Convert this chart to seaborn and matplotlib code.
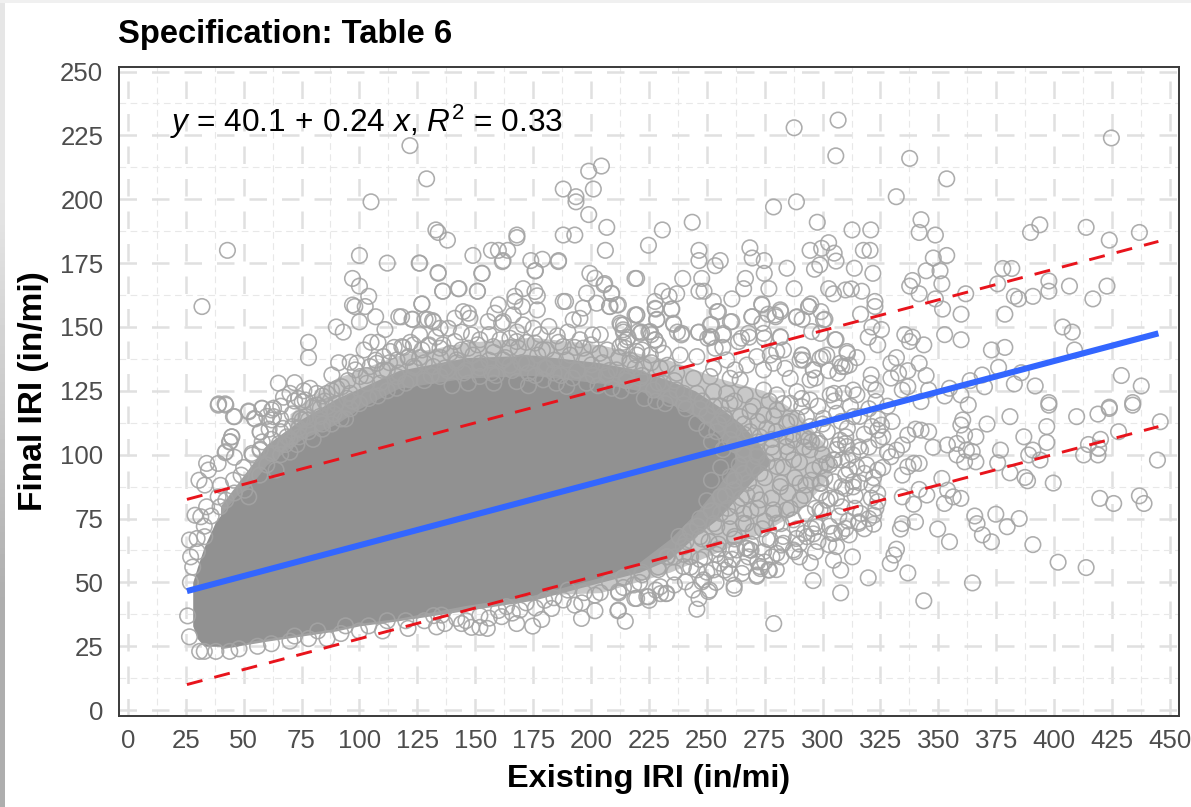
import matplotlib
matplotlib.use("Agg")
import matplotlib.pyplot as plt
from matplotlib.ticker import MultipleLocator
import seaborn as sns
import pandas as pd

# solid grey mass, read as an envelope (x, lower, upper)
core_x = [28, 30, 33, 38, 47, 53, 60, 75, 90, 100, 117, 146, 175, 204, 221, 234, 245, 255, 262]
core_low = [33, 28, 25, 25, 25, 27, 28, 30, 32, 34, 36, 41, 45, 52, 58, 67, 77, 88, 97]
core_high = [50, 56, 64, 74, 84, 88, 96, 106, 112, 118, 126, 130, 131, 128, 125, 120, 115, 108, 100]

# where the circles overlap so much that the paper hardly shows through
dense_x = [40, 60, 75, 90, 100, 117, 146, 175, 204, 221, 234, 245, 255, 265, 272, 277]
dense_low = [24, 27, 29, 31, 33, 35, 39, 43, 50, 54, 59, 68, 75, 85, 92, 96]
dense_high = [80, 104, 114, 122, 126, 133, 138, 139, 136, 133, 129, 125, 119, 112, 105, 98]

# outer zone where single rings start to separate
haze_x = [70, 90, 117, 146, 175, 204, 234, 255, 275, 290, 300, 305]
haze_low = [30, 33, 37, 41, 45, 46, 54, 62, 70, 78, 88, 96]
haze_high = [116, 130, 139, 144, 146, 143, 137, 130, 125, 116, 105, 98]

# circles, read region by region
pts_top = [
    (121.8, 221), (287.7, 228), (306.7, 231), (305.7, 217), (337.6, 216), (353.6, 208), (424.7, 224),
    (331.8, 201), (129, 208), (105, 199), (199, 211), (204.5, 213), (188, 204), (193.5, 201),
    (193.5, 199), (199, 194), (201, 204), (278.8, 197), (288.7, 199), (243.7, 191), (230.8, 188),
    (224.8, 182), (206.8, 189), (206.2, 180), (297.7, 191), (342.5, 192), (341.7, 187), (348.7, 186),
    (312.7, 188), (320.8, 188), (389.8, 187), (393.8, 190), (413.8, 189), (423.8, 184), (436.8, 187),
    (43, 180), (32, 158), (133, 188), (134, 187), (138, 184), (100, 178), (112, 175), (126, 175),
    (134, 171), (149, 178), (153, 171), (136, 164), (143, 165), (151, 164), (157, 180), (160, 180),
    (164, 180), (162, 176), (168, 185), (168, 186), (174, 176), (176, 172), (179, 176.5), (186, 176),
    (188, 186), (193, 186), (185.9, 175.6), (161.7, 175.6), (125.8, 175), (152.8, 171), (175.8, 172),
]
pts_upper_left = [
    (97, 169), (100, 166), (104, 162), (97, 158.6), (98, 158), (102.5, 158), (100, 152), (107, 154),
    (90, 150), (93, 148), (111, 149), (117, 154), (122.7, 153), (129.6, 153), (132, 152), (127, 159),
    (78, 144), (78, 138), (102, 141), (105, 144), (108, 144), (91, 136), (88.1, 131.2), (96, 136.2),
    (98.9, 135.8), (98.2, 133.2), (113.3, 140.4), (118.3, 142.3), (65, 128), (72, 128.2), (67.2, 122.5),
    (39.2, 119.9), (42, 119.9), (46.1, 114.9), (52.1, 117.1), (57.9, 118.2), (55, 114), (62.9, 118.2),
    (62.2, 113.6), (57.2, 108.8), (44.9, 107), (44.2, 105.1), (42, 100.8), (53.6, 100.5), (57.2, 102.2),
    (74.4, 114.2), (78, 113.6), (73.7, 122), (76.6, 121.4), (78.7, 126), (81.6, 124), (90.3, 126),
    (92.4, 126.6), (94.6, 122.1), (86, 118.8), (83.1, 118.2), (103.2, 128), (104.6, 134.5), (107.5, 135.8),
    (110.4, 138.4), (116.2, 137.1), (100.3, 130.6), (109, 128), (116.2, 130.6), (121.2, 138.4),
    (88, 112), (84, 110), (92, 114), (96, 118), (100, 120), (104, 122), (108, 123), (112, 125),
    (116, 126), (120, 128), (70, 106), (73, 104), (66, 100), (80, 106), (86, 124), (112, 133), (95, 129),
]
pts_upper_mid = [
    (134, 171.3), (135.9, 164), (142.7, 165), (150.9, 164), (170.7, 165), (167.1, 162), (167.1, 160),
    (175.8, 163.9), (176.8, 162.2), (176.8, 156.7), (170.3, 158), (166.4, 154.7), (160, 158.7),
    (158.5, 155.4), (162.1, 152.1), (161.4, 151.5), (155.6, 152.1), (126.9, 159), (144.8, 156),
    (147.7, 153.4), (147, 155.4), (141.2, 153.4), (138.4, 149.5), (134.8, 149.5), (131.6, 152.5),
    (128.3, 153), (123, 153), (118.2, 154), (188, 160), (189, 160), (199.5, 171), (201.7, 169.1),
    (205.6, 166.5), (208.9, 163.2), (219, 169), (198.1, 163.2), (202.4, 159.3), (208.2, 158),
    (211.8, 158.7), (196.6, 157.4), (192.3, 152.8), (195.2, 153.4), (181.8, 150.2), (185.4, 146.5),
    (200.7, 146.9), (212.5, 151.5), (213.9, 148.9), (219, 154.7), (220.4, 148.2), (170.7, 150.8),
    (175.1, 149.5), (165, 145.6), (167.9, 144.3), (168.6, 141.7), (175.8, 143.7), (160.7, 145),
    (152, 145), (148.4, 146.9), (141.2, 144.3), (129.7, 142.6), (130, 143), (123.3, 143), (119, 142),
    (134.8, 141.7), (139.1, 139.7), (147, 141.7), (157.8, 142.3), (180.8, 141), (188, 142.3),
    (195.2, 145), (196.6, 141.7), (203.8, 139.7), (212.5, 142.3), (216.8, 137.1), (219.7, 140.4),
    (189.5, 137.1), (200.2, 135.2), (180.8, 133.9), (172.2, 135.8), (162.1, 137.1), (152, 135.8),
    (142, 137.1), (131.9, 134.5), (123.3, 134.5), (211, 133.2), (189.5, 126.7), (206.7, 131.2),
    (167.9, 128.6), (152, 130.6), (134.8, 130.6), (121.8, 129.3), (179.4, 129.3), (198.1, 128),
    (215.4, 130.6), (126, 138), (137, 134), (146, 133), (157, 132), (165, 135), (176, 131), (184, 132),
    (192, 130), (203, 127), (128, 129), (140, 127), (147, 128), (158, 128), (173, 127), (185, 128),
    (194, 133), (209, 126), (213, 125), (218, 127), (223, 122), (228, 121), (232, 120),
]
pts_upper_right = [
    (246.6, 180), (246.6, 176), (253.6, 174), (255.8, 176), (268.6, 181), (269.6, 177), (274.8, 176),
    (274.8, 171), (284.6, 173), (294.6, 180), (299.6, 180.8), (302.6, 183), (305, 178.9), (305.8, 175.8),
    (296.5, 172.6), (298.8, 174.3), (317.6, 180), (320.5, 180), (313.7, 173), (321.7, 171), (347.8, 177),
    (353.6, 178), (344.7, 172), (350.7, 172), (351.5, 166.9), (338.8, 168.2), (337.6, 166), (341.7, 163),
    (219.7, 169), (239.6, 169), (247.8, 169), (246.6, 164), (248.8, 164), (265.9, 165), (266.7, 169),
    (276.8, 165), (287.7, 165), (302.6, 165), (304.7, 163), (309.9, 164.5), (312.4, 164.9), (316.9, 164),
    (252.8, 160), (260.8, 161), (230.8, 164), (233.7, 162), (237, 163), (227.6, 160), (227.9, 157),
    (234.7, 157), (254.5, 156), (273.7, 159), (281.9, 156), (276.5, 155), (279.7, 154), (269.6, 154),
    (288.7, 153.8), (291.2, 153), (294.1, 158), (294.9, 159), (299.3, 156), (301, 153), (316.4, 155),
    (322.6, 160), (322.6, 158), (377.8, 172.9), (381.7, 172.9), (375.6, 166.9), (397.7, 168), (397.7, 164),
    (406.6, 166), (422.8, 166), (416.7, 161), (390.8, 162), (382.8, 162), (384.6, 161), (348.7, 161),
    (361.8, 163), (351.8, 157), (359.8, 155), (378.7, 155), (403.7, 150), (407.8, 148), (378.7, 142),
    (372.9, 141), (408.8, 141), (352.7, 147), (359.8, 145), (343.7, 143), (335.5, 147), (338.8, 146),
    (337.6, 144.3), (323.8, 143), (319.7, 146), (325.4, 149), (321.3, 150), (305.8, 145), (310.7, 139.7),
    (314.8, 138), (341.7, 135.8), (344.7, 131), (336.8, 132.9), (331.9, 138), (329.5, 135.8), (329.5, 130),
    (332.8, 131.9), (368.9, 131.2), (363.7, 129), (376, 134.2), (385.8, 132.1), (382.8, 127.7), (369.9, 126.6),
    (391.8, 126.9), (429, 131), (437.6, 126.9), (354.8, 126), (352.7, 123), (359.7, 123.4), (362.9, 119.5),
    (345.8, 125.3), (397.7, 120.4), (423.8, 118.6), (433.9, 120.4), (323, 120.8), (321, 131.2), (320.7, 127.9),
    (323, 125.3), (302.6, 132.9), (308.3, 134.5), (311.5, 135.1), (306.6, 131.9), (296, 133.2), (296.9, 130),
    (291.2, 139), (291.7, 137), (300.1, 138.4), (305, 124), (313.2, 125.3), (314.8, 123.4), (334.4, 125.3),
    (336.8, 126.6), (342.5, 120.8), (212.9, 150.8), (214, 148), (221.8, 148), (225, 148), (227.6, 145),
    (235.7, 151), (237.3, 148), (239, 146.9), (246.6, 148), (252, 151), (252, 146), (250.4, 145.6),
    (256.9, 146.9), (260.2, 152), (256.9, 142), (268.3, 146), (265, 145.6), (274.8, 145.6), (281.9, 146),
    (228.4, 153), (219.7, 154.7), (208.8, 163), (205.9, 167), (211.2, 158.6), (208, 158),
]
pts_band = [
    (219.8, 154.7), (227.7, 157.3), (228.4, 152.8), (234.9, 157), (235.6, 151.5), (239.2, 147.5), (214, 150.8),
    (221.2, 147.5), (225.6, 148.2), (227.7, 144.9), (215.5, 144.9), (246.4, 147.9), (251.5, 150.8), (255, 156),
    (260.8, 152.1), (251.5, 146.2), (257.2, 147.5), (253.6, 141.7), (269.4, 154), (273.8, 158.6), (273.8, 151.5),
    (279.5, 154.7), (281.7, 156.7), (288.9, 154), (293.9, 158), (300.4, 152.8), (299, 147.5), (268, 147.5),
    (263.7, 144.3), (274.5, 147.5), (281.7, 146.2), (295.3, 148.2), (305.4, 145), (291, 139), (290.3, 137.1),
    (301.8, 139), (298.9, 137.7), (310.5, 140.4), (307.6, 135.8), (309.7, 134.5), (296, 133.2), (294.6, 129.3),
    (283.8, 133.8), (286, 129.9), (274.5, 133.2), (278.8, 135.8), (267.3, 135.1), (262.2, 133.2), (283.1, 141),
    (280.2, 140.4), (271.6, 138.4), (277.4, 139), (258.6, 137.1), (252.9, 133.8), (260.1, 129.9), (264.4, 129.3),
    (251.4, 130.6), (244.3, 129.9), (237, 131.9), (245.7, 138.4), (238.5, 139), (231.3, 139.7), (225.6, 139),
    (219.8, 139), (214.8, 141.7), (216.9, 135.8), (222.7, 134.5), (229.9, 133.8), (221.2, 129.9), (231.3, 127.9),
    (237, 125.3), (227, 125.3), (245.7, 124), (252.9, 124.7), (258.6, 124), (266.6, 123.4), (274.5, 125.3),
    (280.2, 123.4), (288.9, 124.7), (294.6, 121.4), (303.3, 123.4), (309, 124), (306.1, 116.2), (313.3, 114.9),
    (300.4, 114.2), (291, 118.8), (286, 120.1), (280.2, 117.5), (274.5, 115.5), (268.7, 116.9), (264.4, 114.9),
    (257.2, 115.5), (250, 115.5), (275.9, 110.3), (268.7, 109), (261.5, 109.7), (254.3, 109), (284.5, 112.3),
    (288.9, 114.2), (294.6, 111), (287.4, 105.7), (298.9, 104.4), (307.6, 105.7), (245.7, 112.3), (250, 109.7),
    (241, 118), (247, 118), (253, 119), (260, 120), (240, 124), (234, 122), (255, 112), (262, 104), (257, 102),
    (252, 105), (266, 100), (272, 105), (278, 106), (284, 107), (292, 107),
]
pts_right = [
    (445.8, 112.9), (444.6, 97.9), (433.9, 119.4), (423.8, 118.1), (418.9, 115.9), (409.7, 114.9), (397.7, 119.4),
    (380.9, 114.9), (396.8, 111), (396.8, 104.8), (386.9, 107), (371, 112), (427.8, 109), (420, 106), (414.8, 104),
    (419.2, 102.5), (412.7, 99.9), (418.9, 99.9), (390.8, 101.8), (389, 99.9), (393.9, 97.9), (376.8, 101.8),
    (375.6, 96.8), (380.9, 92.9), (387.4, 91.1), (388.5, 89.8), (399.6, 88.9), (419.7, 82.9), (425.7, 80.9),
    (436.8, 83.9), (438.8, 80.9), (384.9, 75), (379.7, 71.8), (374.8, 76.7), (365.7, 76), (366.7, 73), (369, 68.6),
    (372.9, 65.9), (390.8, 64.8), (401.7, 57.9), (413.8, 55.8), (364.7, 49.8), (343.7, 42.8), (349.7, 70.9),
    (354.8, 65.9), (340.1, 73.7), (334.4, 73), (333.6, 70.9), (331.9, 63), (330.8, 60.7), (329.2, 57.4),
    (336.8, 53.7), (319.7, 51.8), (307.8, 45.9), (295.9, 50.7), (307.8, 54.8), (312.9, 60), (304.7, 58.7),
    (294.7, 57.7), (296.9, 62), (302.6, 64.8), (305, 69.2), (311.5, 68.6), (308.3, 69.8), (322, 72.8), (315.6, 73.7),
    (322.1, 76.3), (278.9, 33.9), (359.7, 82.9), (356.4, 83.5), (352.6, 80.9), (351.5, 90.7), (354, 86.1), (345, 84.2),
    (341.7, 86.4), (339.3, 80.6), (334.4, 83.5), (323.8, 81.6), (339.3, 96.6), (336.8, 95.3), (341.7, 96.6),
    (334.4, 92), (323.8, 94), (331.9, 101.8), (329.5, 99.2), (334.4, 103.8), (347.7, 102.9), (353.9, 103.8),
    (358, 104.4), (358, 99.9), (361.3, 97.2), (366.2, 97.2), (364.6, 101.2), (362.1, 101.8), (366.2, 107),
    (361.3, 107.7), (359.7, 111.6), (360.5, 113.6), (345.8, 109), (342.5, 109.6), (336.8, 107.7), (340.1, 110),
    (325.4, 111.6), (323.8, 109.6), (321.3, 111), (324.3, 105.7), (315.6, 103.1), (316.4, 101.8), (309.9, 104.4),
    (306.7, 103.8), (310.7, 110.3), (297.7, 105.7), (295.2, 105), (301.8, 96.6), (305, 97.9), (308.3, 97.9),
    (311.5, 94), (314.8, 95.3), (318.1, 92.7), (321.3, 88.1), (323.8, 84.8), (313.2, 87.4), (309.9, 86.8), (305, 89.4),
    (299.3, 88.8), (292.8, 88.1), (296.9, 79), (301.8, 82.2), (308.3, 79.6), (316.4, 77), (323, 79), (315.6, 73.1),
    (309.9, 71.1), (304.2, 69.2), (295.2, 71.1), (288.7, 67.2), (292, 69.2), (296.9, 73.1), (273, 92.7), (280.2, 95.4),
    (287.4, 98), (294.6, 101.9), (298.9, 95.4), (304.7, 98), (310.5, 103.2), (265.8, 92.7), (260.1, 91.4), (271.6, 99.3),
    (284.5, 103.2), (278.8, 100.6), (281.7, 87.5), (290.3, 88.8), (298.9, 88.8), (303.3, 82.9), (308.3, 87.5),
    (313.3, 89.5), (290.3, 82.3), (284.5, 78.4), (278.8, 78.4), (287.4, 74.5), (280.2, 73.2), (265.8, 73.2), (260.1, 75.8),
    (267.3, 84.2), (273, 82.3), (261.5, 86.2), (255.8, 83.6), (293.2, 67.9), (297.5, 71.8), (298.9, 78.4), (254.3, 71.8),
    (247.1, 67.9), (239.9, 64), (232.7, 60.1), (277.4, 66.6), (283.1, 65.3), (262.9, 62.7), (255.8, 57.5), (274.5, 62),
    (268.7, 62.7), (267.3, 63.4), (280.2, 61.4), (287.4, 62.7), (252, 90), (256, 95), (250, 82), (256, 77), (247, 75),
    (251, 66), (243, 70), (238, 68), (262, 68), (270, 70), (275, 74), (269, 78), (263, 80),
]
pts_lower = [
    (245.7, 39.5), (246.6, 43.7), (214.8, 34.8), (211.6, 38.9), (225.1, 43), (219.7, 43.7), (224.8, 44.4), (212, 45.9),
    (232.4, 45.6), (230, 45.6), (251.2, 47), (247.9, 50.2), (261.8, 48.9), (261.8, 47.6), (240.8, 50.2), (271.6, 52.4),
    (273.2, 55.4), (277, 54.8), (259.4, 56.1), (257.7, 54.8), (260.2, 53.5), (265.1, 53.5), (287.9, 62), (282.2, 64.6),
    (278.1, 60), (269.1, 62.6), (266.7, 63.3), (260.2, 62.6), (121, 32), (133.3, 32.6), (136.9, 33.9), (144.1, 33.9),
    (148.4, 32.4), (152, 32.4), (155.2, 32), (161.4, 36.6), (167.9, 33.9), (174.8, 32.9), (178.7, 35.5), (195.9, 35.9),
    (201.7, 38.9), (211.8, 39.2), (218.9, 43.7), (211.8, 46.4), (188, 43.1), (193, 41.1), (183, 39.8), (169.3, 39.2),
    (163.5, 40.5), (142, 35.9), (135.5, 37.2), (201.7, 45), (273, 56.2), (276.6, 54.9), (271.6, 52.9), (250.7, 46.4),
    (248.6, 51), (232.7, 45.7), (229.9, 48.3), (224.1, 44.4), (218.4, 49), (245.7, 54.9), (239.9, 56.2), (252.9, 54.9),
    (208, 50), (214, 52), (222, 53), (229, 55), (236, 60), (243, 60), (249, 60), (255, 63), (197, 46), (190, 47), (180, 43),
    (172, 42), (160, 39), (152, 37), (128, 35), (120, 35), (110, 31), (100, 31), (92, 30), (86, 28), (78, 28), (70, 27), (62, 26),
    (56, 25),
]
pts_left = [
    (25.8, 36.9), (26.6, 28.7), (31, 23), (27.1, 60), (26.6, 66.6), (29.9, 67.2), (33.2, 67.9), (29, 76.3), (31.5, 75.7),
    (33.2, 88.1), (34, 96.6), (39, 96.6), (34.8, 94), (42.3, 101.2), (44.8, 107), (43.9, 105), (45.6, 90), (48.9, 92),
    (53.8, 99.9), (57.1, 101.8), (57.1, 109), (45.6, 114.9), (39, 119.4), (42.3, 119.4), (52.2, 116.8), (54.6, 114.2),
    (58, 118.1), (62.9, 114.9), (62.1, 117.5), (67, 110.3), (68.7, 107), (62.1, 100.5), (65.4, 104.4), (75.3, 113.6),
    (77, 114.9), (73.7, 110.3), (81.9, 119.4), (75.3, 120.7), (39, 83.5), (42.3, 82.2), (34, 79.6), (39.8, 79.6),
    (50.5, 86.1), (52.2, 83.5), (30.7, 90), (27, 50), (28, 56), (30, 62), (33, 72), (36, 76), (46, 85), (57, 92), (60, 96),
    (64, 94), (70, 101), (33, 23), (38, 23), (44, 23), (48, 24),
]
# thick texture just outside the solid mass
pts_texture_top = [
    (103, 131), (110, 133), (117, 132), (124, 134), (131, 131), (138, 133), (145, 132), (152, 134), (159, 131),
    (166, 133), (173, 132), (180, 134), (187, 131), (194, 133), (201, 131), (208, 133), (215, 129), (222, 131), (229, 128),
    (236, 129), (107, 137), (113, 136), (121, 138), (128, 136), (135, 138), (142, 136), (149, 139), (156, 137),
    (163, 138), (170, 136), (177, 139), (184, 137), (191, 139), (198, 137), (205, 136), (212, 138), (219, 134),
    (226, 136), (233, 135), (115, 142), (122, 144), (127, 141), (136, 143), (144, 141), (151, 143), (158, 140),
    (165, 142), (172, 144), (179, 141), (186, 144), (193, 142), (200, 143), (207, 141), (214, 144), (222, 141),
    (229, 143), (126, 147), (133, 146), (144, 148), (156, 147), (168, 148), (178, 147), (190, 148), (204, 147),
    (216, 146), (226, 147), (70, 124), (76, 125), (84, 123), (88, 125), (96, 124), (66, 119), (72, 121), (80, 119),
    (85, 121), (90, 120), (97, 121), (60, 115), (66, 114), (71, 116), (83, 115), (89, 116), (94, 114), (61, 110),
    (66, 109), (71, 111), (78, 109), (84, 112), (58, 105), (62, 106), (68, 104), (74, 107), (50, 95), (46, 99), (40, 88),
]
pts_texture_right = [
    (240, 120), (248, 121), (256, 119), (262, 121), (270, 119), (277, 121), (283, 120), (291, 122), (298, 119),
    (305, 121), (312, 119), (320, 118), (328, 119), (258, 114), (266, 112), (272, 113), (279, 115), (286, 113),
    (293, 115), (300, 112), (308, 113), (316, 115), (324, 114), (330, 113), (260, 106), (266, 108), (273, 107),
    (280, 109), (287, 108), (294, 106), (302, 109), (310, 107), (318, 108), (326, 107), (266, 102), (272, 101),
    (278, 103), (285, 101), (292, 103), (300, 100), (306, 102), (313, 100), (320, 103), (328, 101), (264, 96),
    (270, 95), (276, 97), (283, 95), (290, 97), (296, 94), (303, 96), (311, 98), (319, 96), (326, 95), (262, 90),
    (268, 89), (275, 91), (282, 89), (288, 91), (295, 90), (301, 91), (310, 92), (316, 89), (322, 91), (258, 84),
    (265, 83), (271, 85), (278, 83), (285, 85), (292, 84), (299, 85), (306, 83), (314, 84), (321, 83), (252, 78),
    (259, 79), (266, 77), (272, 79), (279, 77), (286, 79), (293, 77), (300, 78), (307, 76), (314, 79), (320, 75),
    (246, 72), (253, 73), (260, 71), (267, 73), (274, 71), (282, 73), (289, 71), (296, 69), (303, 72), (311, 74),
    (318, 71), (241, 66), (248, 67), (255, 65), (262, 67), (269, 65), (276, 67), (283, 68), (290, 65), (298, 66),
    (306, 64), (233, 60), (240, 61), (247, 59), (254, 61), (261, 59), (268, 60), (275, 58), (282, 60), (290, 60),
    (222, 54), (229, 56), (236, 54), (243, 56), (250, 54), (258, 59), (266, 56), (272, 58), (280, 55), (214, 48),
    (221, 50), (228, 47), (236, 49), (244, 47), (254, 50), (204, 46), (196, 42), (184, 44), (176, 40), (166, 38),
    (156, 36), (146, 35), (132, 37), (112, 35), (104, 33), (94, 33), (82, 31), (72, 29),
]

# regression line and prediction limits
fit_x = [25.5, 445]
fit_y = [46.6, 147.5]
upper_y = [82.5, 183.5]
lower_y = [10, 111]

x_ticks = list(range(0, 451, 25))
y_ticks = list(range(0, 251, 25))

sns.set_theme(style="white")
plt.rcParams["font.family"] = ["Liberation Sans", "DejaVu Sans"]
plt.rcParams["mathtext.fontset"] = "custom"
plt.rcParams["mathtext.rm"] = "Liberation Sans"
plt.rcParams["mathtext.it"] = "Liberation Sans:italic"
plt.rcParams["mathtext.bf"] = "Liberation Sans:bold"

fig = plt.figure(figsize=(11.91, 8.07), dpi=100, facecolor="white")
ax = fig.add_axes([118.6 / 1191, 1 - 716 / 807, (1179 - 118.6) / 1191, (716 - 66.7) / 807])

# screenshot border on the left and top of the page
strip = fig.add_axes([0, 0, 5 / 1191, 1])
strip.imshow([[0.9], [0.68]], cmap="gray", vmin=0, vmax=1, aspect="auto", interpolation="bilinear")
strip.axis("off")
top_strip = fig.add_axes([0, 1 - 3 / 807, 1, 3 / 807])
top_strip.set_facecolor("#f0f0f0")
top_strip.set_xticks([])
top_strip.set_yticks([])
for spine in top_strip.spines.values():
    spine.set_visible(False)

ax.set_axisbelow(True)
ax.xaxis.set_major_locator(MultipleLocator(25))
ax.yaxis.set_major_locator(MultipleLocator(25))
ax.xaxis.set_minor_locator(MultipleLocator(12.5))
ax.yaxis.set_minor_locator(MultipleLocator(12.5))
ax.grid(which="major", color="#e0e0e0", linewidth=1.8, linestyle=(0, (7, 6)))
ax.grid(which="minor", color="#e8e8e8", linewidth=0.8, linestyle=(0, (6, 4)))

ax.fill_between(haze_x, haze_low, haze_high, color="#c8c8c8", linewidth=0, zorder=1.6)
ax.fill_between(dense_x, dense_low, dense_high, color="#a0a0a0", linewidth=0, zorder=1.8)
ax.fill_between(core_x, core_low, core_high, color="#919191", linewidth=0, zorder=2)

df = pd.DataFrame(
    pts_top + pts_upper_left + pts_upper_mid + pts_upper_right + pts_band + pts_right + pts_lower + pts_left
    + pts_texture_top + pts_texture_right,
    columns=["existing", "final"],
)
sns.scatterplot(data=df, x="existing", y="final", ax=ax, marker="o", s=125, color="#a4a4a4",
                facecolor="none", edgecolor="#a4a4a4", linewidth=1.15, alpha=0.9, zorder=3, legend=False)

sns.lineplot(x=fit_x, y=fit_y, ax=ax, color="#3366ff", linewidth=4.4, zorder=5, solid_capstyle="butt", errorbar=None)
for vals in [upper_y, lower_y]:
    sns.lineplot(x=fit_x, y=vals, ax=ax, color="#e8141c", linewidth=2.1, zorder=6,
                 linestyle=(0, (5.5, 4.2)), errorbar=None)

ax.set_xlim(-4.0, 453.9)
ax.set_ylim(-2.3, 251.9)
ax.set_xticks(x_ticks)
ax.set_yticks(y_ticks)
ax.tick_params(axis="x", which="both", length=0, labelsize=18.6, labelcolor="#4d4d4d", pad=9)
ax.tick_params(axis="y", which="both", length=0, labelsize=18.6, labelcolor="#4d4d4d", pad=11)
for spine in ax.spines.values():
    spine.set_visible(True)
    spine.set_color("#3a3a3a")
    spine.set_linewidth(1.4)

ax.set_xlabel("Existing IRI (in/mi)", fontsize=23.4, fontweight="bold", color="black", labelpad=8)
ax.set_ylabel("Final IRI (in/mi)", fontsize=24, fontweight="bold", color="black")
ax.yaxis.set_label_coords(-0.0656, 0.5)
fig.text(118 / 1191, 1 - 43 / 807, "Specification: Table 6", fontsize=23.6, fontweight="bold", color="black")
fig.text(170 / 1191, 1 - 132 / 807, r"$y$ = 40.1$\,+\,$0.24 $x$, $R^2$ = 0.33", fontsize=22.8, color="black")

fig.savefig("out.png", dpi=100)
